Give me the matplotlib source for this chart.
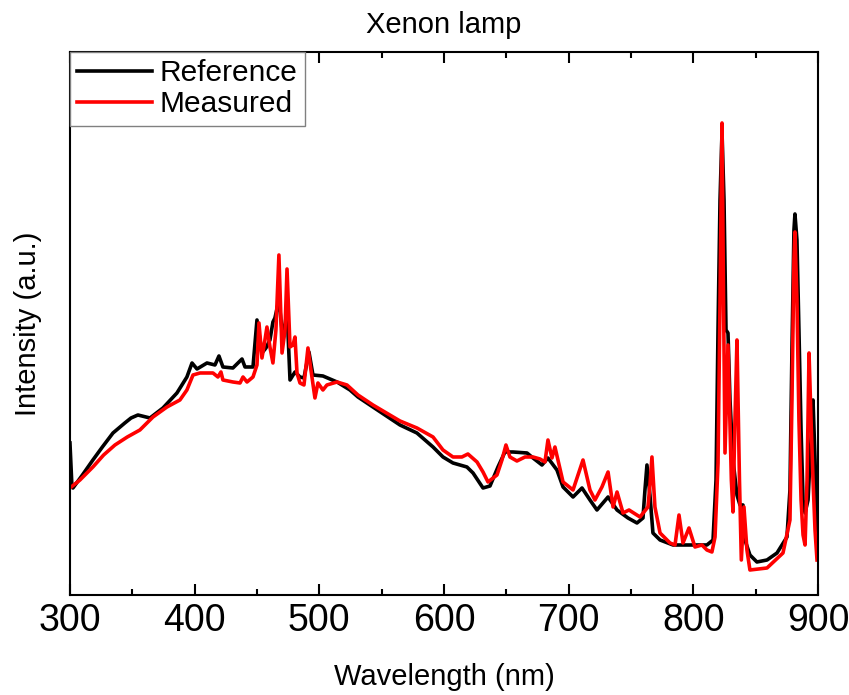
import numpy as np
import matplotlib
matplotlib.use('Agg')
import matplotlib.pyplot as plt
from matplotlib.ticker import MultipleLocator

plt.rcParams['font.family'] = ['Liberation Sans', 'DejaVu Sans']

# reference spectrum (wavelength nm, intensity a.u.)
ref_wl = [300.0, 301.6, 302.4, 310.0, 318.4, 326.0, 334.5, 344.0, 349.0, 354.5,
          364.2, 374.6, 385.8, 393.8,
          397.9, 401.9, 409.9, 416.3, 419.5, 422.7, 430.7, 438.0, 440.4, 446.8,
          450.0, 454.0, 457.2, 460.4, 462.8, 464.4, 467.6, 470.9, 474.1, 476.5,
          480.5, 484.5, 487.7, 491.7, 494.9, 502.9, 514.2, 524.6, 531.0, 543.0,
          564.7, 578.3, 591.2, 599.2, 607.2, 618.4, 623.3, 631.3, 636.9, 643.3,
          648.9, 655.3, 666.6, 671.4, 678.6, 683.4, 690.6, 695.5, 703.5, 710.7,
          717.1, 722.7, 731.6, 738.8, 747.6, 754.8, 759.6, 761.2, 762.8, 765.2,
          767.6, 773.3, 783.7, 797.3, 810.9, 815.8, 818.2, 819.8, 821.4, 823.0,
          824.6, 826.2, 827.8, 829.4, 831.8, 835.0, 837.4, 839.8, 841.4, 845.4,
          851.0, 859.1, 867.1, 875.1, 877.5, 879.1, 880.7, 881.5, 883.1, 884.7,
          886.4, 888.0, 889.6, 892.0, 894.4, 896.0, 897.6, 899.2, 900.0]
ref_int = [152, 108, 107, 120, 135, 148, 162, 172, 177, 180,
           177, 187, 202, 218,
           232, 226, 232, 230, 239, 228, 227, 236, 228, 228,
           275, 242, 247, 255, 273, 277, 295, 255, 285, 215,
           223, 218, 217, 243, 220, 219, 213, 205, 198, 188,
           170, 162, 148, 138, 132, 128, 122, 107, 109, 128,
           143, 143, 142, 137, 130, 137, 125, 108, 98, 107,
           95, 85, 98, 85, 77, 72, 77, 105, 130, 100,
           62, 55, 50, 50, 50, 55, 115, 265, 395, 463,
           395, 265, 262, 195, 135, 100, 90, 90, 55, 40,
           33, 35, 42, 58, 105, 245, 365, 381, 355, 265,
           165, 95, 82, 95, 155, 195, 135, 65, 50]

# measured spectrum
meas_wl = [300.0, 308.0, 318.4, 327.0, 336.1, 346.0, 356.1, 366.6, 377.8, 388.2, 393.8, 398.7,
           404.3, 414.7, 418.7, 421.1, 422.7, 430.7, 436.4, 438.8, 442.0, 446.8,
           450.0, 451.6, 454.0, 456.4, 458.0, 460.4, 462.8, 465.2, 467.6, 470.1,
           472.5, 474.1, 476.5, 478.9, 480.5, 482.1, 484.5, 487.7, 490.9, 493.3,
           496.5, 498.9, 502.9, 506.1, 514.2, 522.2, 531.0, 543.0, 564.7, 578.3,
           591.2, 599.2, 607.2, 614.4, 619.2, 626.5, 631.3, 635.3, 642.5, 646.5,
           649.7, 652.9, 658.5, 665.0, 671.4, 677.0, 681.0, 683.4, 686.6, 689.0,
           691.4, 695.5, 703.5, 711.5, 717.1, 721.1, 726.7, 731.6, 735.6, 738.8,
           743.6, 748.4, 757.2, 763.6, 765.2, 766.8, 769.2, 773.3, 781.3, 785.3,
           788.5, 791.7, 796.5, 801.3, 806.9, 810.9, 814.9, 817.4, 819.8, 821.4,
           823.0, 824.2, 825.4, 827.8, 830.5, 831.8, 833.4, 835.0, 837.0, 838.5,
           840.6, 843.0, 845.4, 859.1, 871.9, 877.5, 879.1, 880.7, 881.5, 883.1,
           884.7, 886.4, 888.0, 889.6, 891.2, 892.8, 894.4, 896.0, 897.6, 899.2]
meas_int = [107, 115, 128, 140, 150, 158, 165, 178, 188, 195, 205, 220,
            222, 222, 218, 223, 215, 213, 212, 218, 213, 218,
            230, 272, 237, 255, 268, 248, 232, 265, 340, 242,
            265, 326, 248, 250, 258, 222, 212, 210, 247, 225,
            197, 212, 205, 210, 213, 210, 200, 190, 174, 167,
            158, 145, 138, 138, 141, 133, 123, 113, 120, 135,
            150, 138, 134, 138, 138, 136, 133, 155, 137, 148,
            135, 113, 105, 135, 105, 95, 108, 123, 88, 103,
            82, 85, 78, 88, 110, 138, 88, 62, 52, 50,
            80, 52, 67, 48, 50, 45, 43, 58, 132, 295,
            472, 300, 142, 250, 115, 83, 175, 255, 115, 35,
            88, 45, 25, 27, 42, 75, 195, 335, 363, 295,
            175, 95, 60, 50, 115, 242, 175, 115, 65, 35]

fig = plt.figure(figsize=(8.49, 6.95), dpi=100)
ax = fig.add_axes([0.0824, 0.1439, 0.8811, 0.7813])

ax.plot(ref_wl, ref_int, color='black', lw=2.6, label='Reference')
ax.plot(meas_wl, meas_int, color='red', lw=2.6, label='Measured')

ax.set_xlim(300, 900)
ax.set_ylim(0, 543)
ax.xaxis.set_major_locator(MultipleLocator(100))
ax.xaxis.set_minor_locator(MultipleLocator(50))
ax.set_yticks([])
ax.tick_params(axis='x', which='both', direction='in', top=True, labelsize=27, pad=6)
ax.tick_params(axis='x', which='major', length=8, width=1.5)
ax.tick_params(axis='x', which='minor', length=4.5, width=1.5)
for s in ax.spines.values():
    s.set_linewidth(1.5)

ax.set_title('Xenon lamp', fontsize=21, pad=14)
ax.set_xlabel('Wavelength (nm)', fontsize=21, labelpad=17)
ax.set_ylabel('Intensity (a.u.)', fontsize=21, labelpad=20)

leg = ax.legend(loc='upper left', fontsize=21.5, fancybox=False, borderaxespad=0,
                handlelength=2.5, handletextpad=0.25, borderpad=0.25,
                labelspacing=0.1, framealpha=1)
leg.get_frame().set_edgecolor('gray')
leg.get_frame().set_linewidth(1.0)

plt.savefig('out.png', dpi=100)
